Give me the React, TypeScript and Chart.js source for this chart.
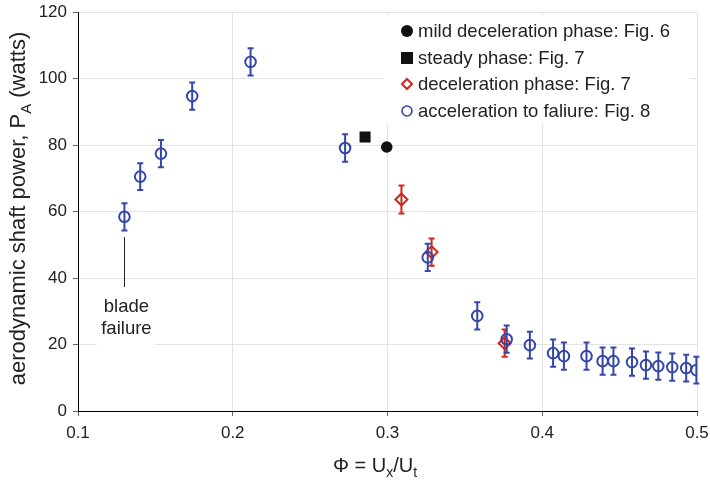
import React, { useEffect, useRef } from "react";
import { Chart, registerables } from "chart.js";

Chart.register(...registerables);

// ---- data ----
const xTickValues = [0.1, 0.2, 0.3, 0.4, 0.5];
const xTickLabels = ["0.1", "0.2", "0.3", "0.4", "0.5"];
const yTickValues = [0, 20, 40, 60, 80, 100, 120];
const yTickLabels = ["0", "20", "40", "60", "80", "100", "120"];

const mildX = [0.2995];
const mildY = [79.4];

const steadyX = [0.2855];
const steadyY = [82.4];

const decelX = [0.309, 0.3285, 0.3757];
const decelY = [63.6, 47.8, 20.4];
const decelErr = [4.2, 4.1, 4.1];

const accelX = [0.13, 0.1402, 0.1536, 0.1738, 0.2115, 0.2726, 0.326, 0.358, 0.377, 0.392, 0.407, 0.414, 0.4286, 0.439, 0.446, 0.458, 0.467, 0.475, 0.484, 0.493, 0.4996];
const accelY = [58.4, 70.5, 77.4, 94.7, 105.0, 79.1, 46.2, 28.6, 21.6, 19.8, 17.4, 16.5, 16.5, 15.0, 15.0, 14.7, 13.8, 13.5, 13.2, 12.9, 12.3];
const accelErr = [4.1, 4.0, 4.1, 4.1, 4.1, 4.1, 4.1, 4.1, 4.1, 4.0, 4.1, 4.1, 4.1, 4.1, 4.1, 4.1, 4.1, 4.1, 4.1, 4.0, 4.0];

const legendLabels = [
  "mild deceleration phase: Fig. 6",
  "steady phase: Fig. 7",
  "deceleration phase: Fig. 7",
  "acceleration to faliure: Fig. 8",
];
const noteLines = ["blade", "failure"];
const noteX = 0.13;
const noteLineFrom = 52.3;
const noteLineTo = 37.3;
const noteTextY = [31.3, 24.6];

const BLUE = "#3447a6";
const RED = "#d0271d";
const BLACK = "#111111";
const FONT = "'Liberation Sans', Arial, sans-serif";

type Seg = { t: string; sub?: boolean };

function drawRich(ctx: CanvasRenderingContext2D, segs: Seg[], cx: number, baseY: number, size: number) {
  const subSize = Math.round(size * 0.68);
  let total = 0;
  const widths = segs.map((s) => {
    ctx.font = `${s.sub ? subSize : size}px ${FONT}`;
    const w = ctx.measureText(s.t).width;
    total += w;
    return w;
  });
  let x = cx - total / 2;
  ctx.textAlign = "left";
  ctx.textBaseline = "alphabetic";
  segs.forEach((s, i) => {
    ctx.font = `${s.sub ? subSize : size}px ${FONT}`;
    ctx.fillText(s.t, x, baseY + (s.sub ? size * 0.27 : 0));
    x += widths[i];
  });
}

const errorMap: Record<number, { err: number[]; color: string }> = {
  0: { err: accelErr, color: BLUE },
  1: { err: decelErr, color: RED },
};

const errorBarPlugin = {
  id: "errorBars",
  afterDatasetDraw(chart: any, args: any) {
    const info = errorMap[args.index];
    if (!info) return;
    const ctx = chart.ctx as CanvasRenderingContext2D;
    const ys = chart.scales.y;
    const ds = chart.data.datasets[args.index];
    const meta = args.meta;
    ctx.save();
    ctx.strokeStyle = info.color;
    ctx.lineWidth = 2;
    meta.data.forEach((pt: any, i: number) => {
      const v = ds.data[i].y;
      const e = info.err[i];
      const top = ys.getPixelForValue(v + e);
      const bot = ys.getPixelForValue(v - e);
      const x = pt.x;
      ctx.beginPath();
      ctx.moveTo(x, top);
      ctx.lineTo(x, bot);
      ctx.moveTo(x - 3, top);
      ctx.lineTo(x + 3, top);
      ctx.moveTo(x - 3, bot);
      ctx.lineTo(x + 3, bot);
      ctx.stroke();
    });
    ctx.restore();
  },
};

const decorPlugin = {
  id: "decor",
  afterDraw(chart: any) {
    const ctx = chart.ctx as CanvasRenderingContext2D;
    const xs = chart.scales.x;
    const ys = chart.scales.y;
    const area = chart.chartArea;
    ctx.save();
    ctx.fillStyle = "#222";

    // y title
    ctx.save();
    ctx.translate(17, (area.top + area.bottom) / 2 - 3);
    ctx.rotate(-Math.PI / 2);
    drawRich(ctx, [{ t: "aerodynamic shaft power, P" }, { t: "A", sub: true }, { t: " (watts)" }], 0, 8, 22);
    ctx.restore();

    // x title
    drawRich(ctx, [{ t: "Φ = U" }, { t: "x", sub: true }, { t: "/U" }, { t: "t", sub: true }], 375, 472, 20);

    // blade failure note
    const nx = xs.getPixelForValue(noteX);
    ctx.fillStyle = "#ffffff";
    ctx.fillRect(nx - 28, ys.getPixelForValue(noteTextY[0]) - 15, 58, 57);
    ctx.strokeStyle = "#222";
    ctx.lineWidth = 1;
    ctx.beginPath();
    ctx.moveTo(Math.round(nx) + 0.5, ys.getPixelForValue(noteLineFrom));
    ctx.lineTo(Math.round(nx) + 0.5, ys.getPixelForValue(noteLineTo));
    ctx.stroke();
    ctx.fillStyle = "#222";
    ctx.font = `18.5px ${FONT}`;
    ctx.textAlign = "center";
    ctx.textBaseline = "middle";
    noteLines.forEach((t, i) => ctx.fillText(t, nx + 2, ys.getPixelForValue(noteTextY[i])));

    // legend
    ctx.fillStyle = "#ffffff";
    ctx.fillRect(383, 15, 307, 108);
    const rows = [31, 58, 84, 111];
    const mx = 407;
    ctx.font = `18.5px ${FONT}`;
    ctx.textAlign = "left";
    ctx.textBaseline = "middle";
    legendLabels.forEach((t, i) => {
      const y = rows[i];
      ctx.lineWidth = 2;
      if (i === 0) {
        ctx.fillStyle = BLACK;
        ctx.beginPath();
        ctx.arc(mx, y, 6, 0, Math.PI * 2);
        ctx.fill();
      } else if (i === 1) {
        ctx.fillStyle = BLACK;
        ctx.fillRect(mx - 6, y - 6, 12, 12);
      } else if (i === 2) {
        ctx.strokeStyle = RED;
        ctx.beginPath();
        ctx.moveTo(mx, y - 5);
        ctx.lineTo(mx + 5, y);
        ctx.lineTo(mx, y + 5);
        ctx.lineTo(mx - 5, y);
        ctx.closePath();
        ctx.stroke();
      } else {
        ctx.strokeStyle = BLUE;
        ctx.lineWidth = 1.6;
        ctx.beginPath();
        ctx.arc(mx, y, 5, 0, Math.PI * 2);
        ctx.stroke();
      }
      ctx.fillStyle = "#222";
      ctx.fillText(t, 418, y + 1);
    });
    ctx.restore();
  },
};

export default function App() {
  const ref = useRef<HTMLCanvasElement | null>(null);
  useEffect(() => {
    if (!ref.current) return;
    const toPts = (xs: number[], ys: number[]) => xs.map((x, i) => ({ x, y: ys[i] }));
    const chart = new Chart(ref.current, {
      type: "scatter",
      data: {
        datasets: [
          {
            label: legendLabels[3],
            data: toPts(accelX, accelY),
            pointStyle: "circle",
            pointRadius: 5.3,
            pointBorderWidth: 2,
            borderColor: BLUE,
            backgroundColor: "rgba(0,0,0,0)",
          },
          {
            label: legendLabels[2],
            data: toPts(decelX, decelY),
            pointStyle: "rectRot",
            pointRadius: 6,
            pointBorderWidth: 2,
            borderColor: RED,
            backgroundColor: "rgba(0,0,0,0)",
          },
          {
            label: legendLabels[1],
            data: toPts(steadyX, steadyY),
            pointStyle: "rect",
            pointRadius: 7.8,
            pointBorderWidth: 0,
            borderColor: BLACK,
            backgroundColor: BLACK,
          },
          {
            label: legendLabels[0],
            data: toPts(mildX, mildY),
            pointStyle: "circle",
            pointRadius: 5.8,
            pointBorderWidth: 0,
            borderColor: BLACK,
            backgroundColor: BLACK,
          },
        ],
      },
      options: {
        animation: false,
        responsive: true,
        maintainAspectRatio: false,
        layout: { padding: { top: 12, right: 13, left: 0, bottom: 0 } },
        plugins: {
          legend: { display: false },
          tooltip: { enabled: false },
          title: { display: false },
        },
        scales: {
          x: {
            type: "linear",
            min: 0.1,
            max: 0.5,
            afterBuildTicks: (s: any) => {
              s.ticks = xTickValues.map((v) => ({ value: v }));
            },
            afterFit: (s: any) => {
              s.height = 69;
              s.paddingLeft = 0;
              s.paddingRight = 0;
            },
            ticks: {
              autoSkip: false,
              maxRotation: 0,
              padding: 7,
              color: "#222",
              font: { family: FONT, size: 17 },
              callback: (_v: any, i: number) => xTickLabels[i],
            },
            grid: { color: "#e4e4e4", lineWidth: 1, tickLength: 5, tickColor: "#666" },
            border: { display: true, color: "#000", width: 1 },
          },
          y: {
            type: "linear",
            min: 0,
            max: 120,
            afterBuildTicks: (s: any) => {
              s.ticks = yTickValues.map((v) => ({ value: v }));
            },
            afterFit: (s: any) => {
              s.width = 78;
              s.paddingTop = 0;
              s.paddingBottom = 0;
            },
            ticks: {
              autoSkip: false,
              padding: 6,
              color: "#222",
              font: { family: FONT, size: 17 },
              callback: (_v: any, i: number) => yTickLabels[i],
            },
            grid: { color: "#e4e4e4", lineWidth: 1, tickLength: 5, tickColor: "#666" },
            border: { display: true, color: "#000", width: 1 },
          },
        },
      },
      plugins: [errorBarPlugin, decorPlugin],
    });
    return () => chart.destroy();
  }, []);

  return (
    <div style={{ position: "absolute", left: 0, top: 0, width: 710, height: 480, background: "#fff" }}>
      <canvas ref={ref} />
    </div>
  );
}
